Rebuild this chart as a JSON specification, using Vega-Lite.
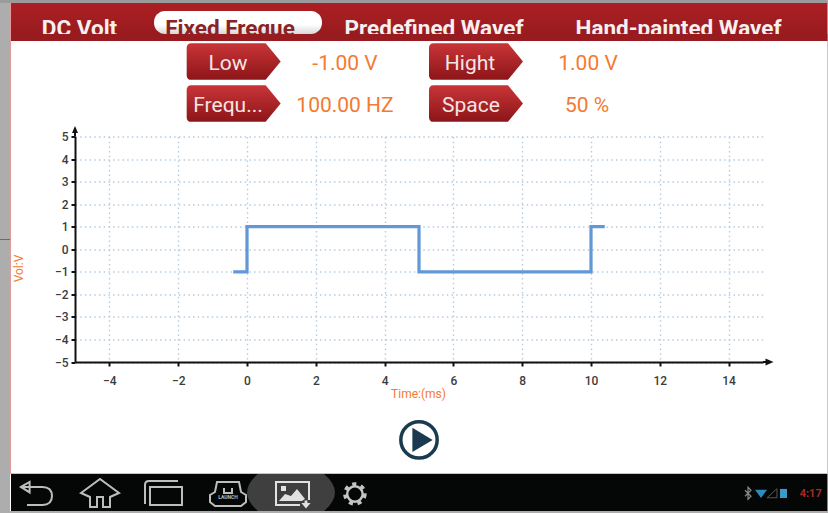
{"$schema":"https://vega.github.io/schema/vega-lite/v6.json","width":688,"height":225.5,"autosize":{"type":"none"},"padding":{"left":75,"top":136.5,"right":65,"bottom":151},"background":"#ffffff","config":{"view":{"stroke":null},"text":{"font":"Roboto"}},
"layer":[
{"data":{"values":[{"t":-0.4,"v":-1},{"t":0,"v":-1},{"t":0,"v":1},{"t":5,"v":1},{"t":5,"v":-1},{"t":10,"v":-1},{"t":10,"v":1},{"t":10.4,"v":1}]},"mark":{"type":"line","color":"#6298d8","strokeWidth":3.2,"strokeJoin":"miter"},"encoding":{"x":{"field":"t","type":"quantitative","scale":{"domain":[-5,15]},"axis":{"values":[-4,-2,0,2,4,6,8,10,12,14],"tickCount":20,"format":"d","labelOverlap":false,"grid":true,"gridColor":"#b4cce0","gridDash":[1.5,3.2],"gridWidth":1.4,"domainColor":"#111111","domainWidth":2,"tickColor":"#111111","tickSize":4,"tickWidth":2,"labelFont":"Roboto","labelFontSize":12,"labelFontWeight":500,"labelColor":"#3c3c3c","labelPadding":9,"title":"Time:(ms)","titleFont":"Roboto","titleFontSize":12,"titleFontWeight":"normal","titleColor":"#f47a30","titleX":343,"titleY":26}},"y":{"field":"v","type":"quantitative","scale":{"domain":[-5,5]},"axis":{"values":[-5,-4,-3,-2,-1,0,1,2,3,4,5],"tickCount":20,"format":"d","labelOverlap":false,"grid":true,"gridColor":"#b4cce0","gridDash":[1.5,3.2],"gridWidth":1.4,"domainColor":"#111111","domainWidth":2,"tickColor":"#111111","tickSize":4,"tickWidth":2,"labelFont":"Roboto","labelFontSize":12,"labelFontWeight":500,"labelColor":"#3c3c3c","labelPadding":3,"title":"Vol:V","titleFont":"Roboto","titleFontSize":12,"titleFontWeight":"normal","titleColor":"#f47a30","titleAngle":-90,"titleX":-50,"titleY":131.5}}}},
{"data":{"values":[{"part":"left strip"}]},"mark":{"type":"rect","fill":"#adadad"},"encoding":{"x":{"datum":-7.18,"type":"quantitative","scale":{"domain":[-5,15]}},"x2":{"datum":-6.89},"y":{"datum":11.053,"type":"quantitative","scale":{"domain":[-5,5]}},"y2":{"datum":-11.696}}},
{"data":{"values":[{"part":"top strip"}]},"mark":{"type":"rect","fill":"#9b9b9b"},"encoding":{"x":{"datum":-7.18,"type":"quantitative","scale":{"domain":[-5,15]}},"x2":{"datum":16.9},"y":{"datum":11.053,"type":"quantitative","scale":{"domain":[-5,5]}},"y2":{"datum":10.92}}},
{"data":{"values":[{"part":"right strip"}]},"mark":{"type":"rect","fill":"#adadad"},"encoding":{"x":{"datum":16.87,"type":"quantitative","scale":{"domain":[-5,15]}},"x2":{"datum":16.9},"y":{"datum":11.053,"type":"quantitative","scale":{"domain":[-5,5]}},"y2":{"datum":-11.696}}},
{"data":{"values":[{"part":"bottom strip"}]},"mark":{"type":"rect","fill":"#adadad"},"encoding":{"x":{"datum":-7.18,"type":"quantitative","scale":{"domain":[-5,15]}},"x2":{"datum":16.9},"y":{"datum":-11.607,"type":"quantitative","scale":{"domain":[-5,5]}},"y2":{"datum":-11.696}}},
{"data":{"values":[{"part":"edge"}]},"mark":{"type":"rect","fill":"#e09a9a"},"encoding":{"x":{"datum":-6.89,"type":"quantitative","scale":{"domain":[-5,15]}},"x2":{"datum":-6.86},"y":{"datum":10.92,"type":"quantitative","scale":{"domain":[-5,5]}},"y2":{"datum":-9.967}}},
{"data":{"values":[{"part":"red tick"}]},"mark":{"type":"rect","fill":"#d04040"},"encoding":{"x":{"datum":-7.18,"type":"quantitative","scale":{"domain":[-5,15]}},"x2":{"datum":-6.89},"y":{"datum":0.4545,"type":"quantitative","scale":{"domain":[-5,5]}},"y2":{"datum":0.41}}},
{"data":{"values":[{"part":"header"}]},"mark":{"type":"rect","fill":{"gradient":"linear","x1":0,"y1":0,"x2":0,"y2":1,"stops":[{"offset":0,"color":"#ac1f23"},{"offset":1,"color":"#941a1e"}]}},"encoding":{"x":{"datum":-6.86,"type":"quantitative","scale":{"domain":[-5,15]}},"x2":{"datum":16.87},"y":{"datum":10.92,"type":"quantitative","scale":{"domain":[-5,5]}},"y2":{"datum":9.235}}},
{"data":{"values":[{"part":"pill"}]},"mark":{"type":"rect","cornerRadius":11,"fill":{"gradient":"linear","x1":0,"y1":0,"x2":0,"y2":1,"stops":[{"offset":0,"color":"#ffffff"},{"offset":0.6,"color":"#ffffff"},{"offset":1,"color":"#d8d8d8"}]}},"encoding":{"x":{"datum":-2.703,"type":"quantitative","scale":{"domain":[-5,15]}},"x2":{"datum":2.18},"y":{"datum":10.565,"type":"quantitative","scale":{"domain":[-5,5]}},"y2":{"datum":9.545}}},
{"data":{"values":[{"label":"DC Volt"}]},"mark":{"type":"text","font":"Roboto","fontSize":22.5,"fontWeight":"bold","color":"#f6f0f0","align":"center","baseline":"alphabetic"},"encoding":{"x":{"datum":-4.869,"type":"quantitative","scale":{"domain":[-5,15]}},"y":{"datum":9.457,"type":"quantitative","scale":{"domain":[-5,5]}},"text":{"field":"label"}}},
{"data":{"values":[{"label":"Fixed Freque"}]},"mark":{"type":"text","font":"Roboto","fontSize":22.5,"fontWeight":"bold","color":"#8a2226","align":"center","baseline":"alphabetic"},"encoding":{"x":{"datum":-0.494,"type":"quantitative","scale":{"domain":[-5,15]}},"y":{"datum":9.457,"type":"quantitative","scale":{"domain":[-5,5]}},"text":{"field":"label"}}},
{"data":{"values":[{"label":"Predefined Wavef"}]},"mark":{"type":"text","font":"Roboto","fontSize":22.5,"fontWeight":"bold","color":"#f6f0f0","align":"center","baseline":"alphabetic"},"encoding":{"x":{"datum":5.436,"type":"quantitative","scale":{"domain":[-5,15]}},"y":{"datum":9.457,"type":"quantitative","scale":{"domain":[-5,5]}},"text":{"field":"label"}}},
{"data":{"values":[{"label":"Hand-painted Wavef"}]},"mark":{"type":"text","font":"Roboto","fontSize":22.5,"fontWeight":"bold","color":"#f6f0f0","align":"center","baseline":"alphabetic"},"encoding":{"x":{"datum":12.544,"type":"quantitative","scale":{"domain":[-5,15]}},"y":{"datum":9.457,"type":"quantitative","scale":{"domain":[-5,5]}},"text":{"field":"label"}}},
{"data":{"values":[{"part":"header base"}]},"mark":{"type":"rect","fill":"#971b1f"},"encoding":{"x":{"datum":-6.86,"type":"quantitative","scale":{"domain":[-5,15]}},"x2":{"datum":16.87},"y":{"datum":9.545,"type":"quantitative","scale":{"domain":[-5,5]}},"y2":{"datum":9.235}}},
{"data":{"values":[{"part":"button"}]},"mark":{"type":"point","filled":true,"opacity":1,"size":8836,"shape":"M-0.9,-0.39 L0.68,-0.39 L1,0 L0.68,0.39 L-0.9,0.39 Q-1,0.39 -1,0.29 L-1,-0.29 Q-1,-0.39 -0.9,-0.39 Z","fill":{"gradient":"linear","x1":0,"y1":0,"x2":0,"y2":1,"stops":[{"offset":0,"color":"#c93537"},{"offset":1,"color":"#8c1519"}]}},"encoding":{"x":{"datum":-0.387,"type":"quantitative","scale":{"domain":[-5,15]}},"y":{"datum":8.326,"type":"quantitative","scale":{"domain":[-5,5]}}}},
{"data":{"values":[{"part":"button"}]},"mark":{"type":"point","filled":true,"opacity":1,"size":8836,"shape":"M-0.9,-0.39 L0.68,-0.39 L1,0 L0.68,0.39 L-0.9,0.39 Q-1,0.39 -1,0.29 L-1,-0.29 Q-1,-0.39 -0.9,-0.39 Z","fill":{"gradient":"linear","x1":0,"y1":0,"x2":0,"y2":1,"stops":[{"offset":0,"color":"#c93537"},{"offset":1,"color":"#8c1519"}]}},"encoding":{"x":{"datum":-0.387,"type":"quantitative","scale":{"domain":[-5,15]}},"y":{"datum":6.463,"type":"quantitative","scale":{"domain":[-5,5]}}}},
{"data":{"values":[{"part":"button"}]},"mark":{"type":"point","filled":true,"opacity":1,"size":8836,"shape":"M-0.9,-0.39 L0.68,-0.39 L1,0 L0.68,0.39 L-0.9,0.39 Q-1,0.39 -1,0.29 L-1,-0.29 Q-1,-0.39 -0.9,-0.39 Z","fill":{"gradient":"linear","x1":0,"y1":0,"x2":0,"y2":1,"stops":[{"offset":0,"color":"#c93537"},{"offset":1,"color":"#8c1519"}]}},"encoding":{"x":{"datum":6.657,"type":"quantitative","scale":{"domain":[-5,15]}},"y":{"datum":8.326,"type":"quantitative","scale":{"domain":[-5,5]}}}},
{"data":{"values":[{"part":"button"}]},"mark":{"type":"point","filled":true,"opacity":1,"size":8836,"shape":"M-0.9,-0.39 L0.68,-0.39 L1,0 L0.68,0.39 L-0.9,0.39 Q-1,0.39 -1,0.29 L-1,-0.29 Q-1,-0.39 -0.9,-0.39 Z","fill":{"gradient":"linear","x1":0,"y1":0,"x2":0,"y2":1,"stops":[{"offset":0,"color":"#c93537"},{"offset":1,"color":"#8c1519"}]}},"encoding":{"x":{"datum":6.657,"type":"quantitative","scale":{"domain":[-5,15]}},"y":{"datum":6.463,"type":"quantitative","scale":{"domain":[-5,5]}}}},
{"data":{"values":[{"label":"Low"}]},"mark":{"type":"text","font":"Roboto","fontSize":21,"color":"#f5e4e4","align":"center","baseline":"middle"},"encoding":{"x":{"datum":-0.552,"type":"quantitative","scale":{"domain":[-5,15]}},"y":{"datum":8.215,"type":"quantitative","scale":{"domain":[-5,5]}},"text":{"field":"label"}}},
{"data":{"values":[{"label":"Frequ..."}]},"mark":{"type":"text","font":"Roboto","fontSize":21,"color":"#f5e4e4","align":"center","baseline":"middle"},"encoding":{"x":{"datum":-0.552,"type":"quantitative","scale":{"domain":[-5,15]}},"y":{"datum":6.35,"type":"quantitative","scale":{"domain":[-5,5]}},"text":{"field":"label"}}},
{"data":{"values":[{"label":"Hight"}]},"mark":{"type":"text","font":"Roboto","fontSize":21,"color":"#f5e4e4","align":"center","baseline":"middle"},"encoding":{"x":{"datum":6.483,"type":"quantitative","scale":{"domain":[-5,15]}},"y":{"datum":8.215,"type":"quantitative","scale":{"domain":[-5,5]}},"text":{"field":"label"}}},
{"data":{"values":[{"label":"Space"}]},"mark":{"type":"text","font":"Roboto","fontSize":21,"color":"#f5e4e4","align":"center","baseline":"middle"},"encoding":{"x":{"datum":6.512,"type":"quantitative","scale":{"domain":[-5,15]}},"y":{"datum":6.35,"type":"quantitative","scale":{"domain":[-5,5]}},"text":{"field":"label"}}},
{"data":{"values":[{"label":"-1.00 V"}]},"mark":{"type":"text","font":"Roboto","fontSize":21,"color":"#f47a30","align":"center","baseline":"middle"},"encoding":{"x":{"datum":2.849,"type":"quantitative","scale":{"domain":[-5,15]}},"y":{"datum":8.215,"type":"quantitative","scale":{"domain":[-5,5]}},"text":{"field":"label"}}},
{"data":{"values":[{"label":"100.00 HZ"}]},"mark":{"type":"text","font":"Roboto","fontSize":21,"color":"#f47a30","align":"center","baseline":"middle"},"encoding":{"x":{"datum":2.849,"type":"quantitative","scale":{"domain":[-5,15]}},"y":{"datum":6.35,"type":"quantitative","scale":{"domain":[-5,5]}},"text":{"field":"label"}}},
{"data":{"values":[{"label":"1.00 V"}]},"mark":{"type":"text","font":"Roboto","fontSize":21,"color":"#f47a30","align":"center","baseline":"middle"},"encoding":{"x":{"datum":9.913,"type":"quantitative","scale":{"domain":[-5,15]}},"y":{"datum":8.215,"type":"quantitative","scale":{"domain":[-5,5]}},"text":{"field":"label"}}},
{"data":{"values":[{"label":"50 %"}]},"mark":{"type":"text","font":"Roboto","fontSize":21,"color":"#f47a30","align":"center","baseline":"middle"},"encoding":{"x":{"datum":9.884,"type":"quantitative","scale":{"domain":[-5,15]}},"y":{"datum":6.35,"type":"quantitative","scale":{"domain":[-5,5]}},"text":{"field":"label"}}},
{"data":{"values":[{"part":"x arrow shaft"}]},"mark":{"type":"rule","color":"#111111","strokeWidth":2},"encoding":{"x":{"datum":15,"type":"quantitative","scale":{"domain":[-5,15]}},"x2":{"datum":15.2},"y":{"datum":-5,"type":"quantitative","scale":{"domain":[-5,5]}}}},
{"data":{"values":[{"part":"x arrow"}]},"mark":{"type":"point","filled":true,"opacity":1,"size":100,"color":"#111111","shape":"M-0.6,-0.7 L1,0 L-0.6,0.7 Z"},"encoding":{"x":{"datum":15.16,"type":"quantitative","scale":{"domain":[-5,15]}},"y":{"datum":-5,"type":"quantitative","scale":{"domain":[-5,5]}}}},
{"data":{"values":[{"part":"y arrow shaft"}]},"mark":{"type":"rule","color":"#111111","strokeWidth":2},"encoding":{"x":{"datum":-5,"type":"quantitative","scale":{"domain":[-5,15]}},"y":{"datum":5,"type":"quantitative","scale":{"domain":[-5,5]}},"y2":{"datum":5.3}}},
{"data":{"values":[{"part":"y arrow"}]},"mark":{"type":"point","filled":true,"opacity":1,"size":64,"color":"#111111","shape":"M-0.75,0.85 L0,-0.85 L0.75,0.85 Z"},"encoding":{"x":{"datum":-5,"type":"quantitative","scale":{"domain":[-5,15]}},"y":{"datum":5.31,"type":"quantitative","scale":{"domain":[-5,5]}}}},
{"data":{"values":[{"part":"play ring"}]},"mark":{"type":"point","shape":"circle","filled":false,"opacity":1,"size":1320,"stroke":"#1a3a4f","strokeWidth":3.5},"encoding":{"x":{"datum":5,"type":"quantitative","scale":{"domain":[-5,15]}},"y":{"datum":-8.457,"type":"quantitative","scale":{"domain":[-5,5]}}}},
{"data":{"values":[{"part":"play"}]},"mark":{"type":"point","filled":true,"opacity":1,"size":1936,"color":"#1a3a4f","shape":"M-0.3,-0.55 L0.62,0 L-0.3,0.55 Z"},"encoding":{"x":{"datum":5,"type":"quantitative","scale":{"domain":[-5,15]}},"y":{"datum":-8.457,"type":"quantitative","scale":{"domain":[-5,5]}}}},
{"data":{"values":[{"part":"nav bar"}]},"mark":{"type":"rect","fill":"#050707"},"encoding":{"x":{"datum":-6.86,"type":"quantitative","scale":{"domain":[-5,15]}},"x2":{"datum":16.87},"y":{"datum":-9.967,"type":"quantitative","scale":{"domain":[-5,5]}},"y2":{"datum":-11.607}}},
{"data":{"values":[{"part":"nav top line"}]},"mark":{"type":"rect","fill":"#c4c4c4"},"encoding":{"x":{"datum":-6.86,"type":"quantitative","scale":{"domain":[-5,15]}},"x2":{"datum":16.87},"y":{"datum":-9.92,"type":"quantitative","scale":{"domain":[-5,5]}},"y2":{"datum":-9.967}}},
{"data":{"values":[{"part":"highlight"}]},"mark":{"type":"point","filled":true,"opacity":1,"size":7744,"color":"#3f3f3f","shape":"M-0.75,-0.42 L0.75,-0.42 Q1.25,0 0.75,0.42 L-0.75,0.42 Q-1.25,0 -0.75,-0.42 Z"},"encoding":{"x":{"datum":1.279,"type":"quantitative","scale":{"domain":[-5,15]}},"y":{"datum":-10.787,"type":"quantitative","scale":{"domain":[-5,5]}}}},
{"data":{"values":[{"part":"back"}]},"mark":{"type":"point","filled":false,"opacity":1,"size":1024,"stroke":"#bdbdbd","strokeWidth":2,"shape":"M-0.94,-0.44 L-0.4,-0.75 L-0.4,-0.1 Z M-0.94,-0.44 L0.4,-0.44 Q1,-0.44 1,0.13 Q1,0.69 0.4,0.69 L-0.56,0.69"},"encoding":{"x":{"datum":-6.134,"type":"quantitative","scale":{"domain":[-5,15]}},"y":{"datum":-10.853,"type":"quantitative","scale":{"domain":[-5,5]}}}},
{"data":{"values":[{"part":"home"}]},"mark":{"type":"point","filled":false,"opacity":1,"size":1600,"stroke":"#bdbdbd","strokeWidth":2,"shape":"M-0.95,-0.05 L0,-0.75 L0.95,-0.05 L0.5,0.15 L0.5,0.65 L0.15,0.65 L0.15,0.15 L-0.15,0.15 L-0.15,0.65 L-0.5,0.65 L-0.5,0.15 Z"},"encoding":{"x":{"datum":-4.273,"type":"quantitative","scale":{"domain":[-5,15]}},"y":{"datum":-10.853,"type":"quantitative","scale":{"domain":[-5,5]}}}},
{"data":{"values":[{"part":"recents"}]},"mark":{"type":"point","filled":false,"opacity":1,"size":1600,"stroke":"#bdbdbd","strokeWidth":2,"shape":"M-0.7,-0.35 L0.9,-0.35 L0.9,0.55 L-0.7,0.55 Z M-0.95,0.5 L-0.95,-0.45 Q-0.95,-0.65 -0.75,-0.65 L0.7,-0.65"},"encoding":{"x":{"datum":-2.413,"type":"quantitative","scale":{"domain":[-5,15]}},"y":{"datum":-10.853,"type":"quantitative","scale":{"domain":[-5,5]}}}},
{"data":{"values":[{"part":"launch"}]},"mark":{"type":"point","filled":false,"opacity":1,"size":1600,"stroke":"#bdbdbd","strokeWidth":2,"shape":"M-0.55,-0.6 L0.55,-0.6 L0.65,-0.1 L0.9,0.05 L0.9,0.4 L0.65,0.6 L-0.65,0.6 L-0.9,0.4 L-0.9,0.05 L-0.65,-0.1 Z M-0.2,-0.3 L-0.2,-0.05 L0.2,-0.05 L0.2,-0.3"},"encoding":{"x":{"datum":-0.552,"type":"quantitative","scale":{"domain":[-5,15]}},"y":{"datum":-10.853,"type":"quantitative","scale":{"domain":[-5,5]}}}},
{"data":{"values":[{"label":"LAUNCH"}]},"mark":{"type":"text","font":"Roboto","fontSize":5,"fontWeight":"bold","color":"#bdbdbd","align":"center","baseline":"middle"},"encoding":{"x":{"datum":-0.552,"type":"quantitative","scale":{"domain":[-5,15]}},"y":{"datum":-11.0,"type":"quantitative","scale":{"domain":[-5,5]}},"text":{"field":"label"}}},
{"data":{"values":[{"part":"image frame"}]},"mark":{"type":"point","filled":false,"opacity":1,"size":1600,"stroke":"#e2e2e2","strokeWidth":2,"shape":"M0.9,0.3 L0.9,-0.6 L-0.75,-0.6 L-0.75,0.55 L0.45,0.55"},"encoding":{"x":{"datum":1.279,"type":"quantitative","scale":{"domain":[-5,15]}},"y":{"datum":-10.853,"type":"quantitative","scale":{"domain":[-5,5]}}}},
{"data":{"values":[{"part":"image content"}]},"mark":{"type":"point","filled":true,"opacity":1,"size":1600,"color":"#e2e2e2","shape":"M-0.6,0.35 L-0.3,0 L0,0.1 L0.3,-0.25 L0.7,0.25 L0.55,0.35 Z M-0.5,-0.4 L-0.25,-0.4 L-0.25,-0.15 L-0.5,-0.15 Z M0.68,0.32 L0.82,0.32 L0.82,0.45 L0.98,0.45 L0.75,0.72 L0.52,0.45 L0.68,0.45 Z"},"encoding":{"x":{"datum":1.279,"type":"quantitative","scale":{"domain":[-5,15]}},"y":{"datum":-10.853,"type":"quantitative","scale":{"domain":[-5,5]}}}},
{"data":{"values":[{"part":"gear body"}]},"mark":{"type":"point","shape":"circle","filled":false,"opacity":1,"size":240,"stroke":"#c4c4c4","strokeWidth":2.5},"encoding":{"x":{"datum":3.137,"type":"quantitative","scale":{"domain":[-5,15]}},"y":{"datum":-10.853,"type":"quantitative","scale":{"domain":[-5,5]}}}},
{"data":{"values":[{"part":"gear teeth"}]},"mark":{"type":"point","shape":"circle","filled":false,"opacity":1,"size":380,"stroke":"#c4c4c4","strokeWidth":4,"strokeDash":[4,4.6]},"encoding":{"x":{"datum":3.137,"type":"quantitative","scale":{"domain":[-5,15]}},"y":{"datum":-10.853,"type":"quantitative","scale":{"domain":[-5,5]}}}},
{"data":{"values":[{"part":"bluetooth"}]},"mark":{"type":"point","filled":false,"opacity":1,"size":144,"stroke":"#8a8a8a","strokeWidth":1.2,"shape":"M-0.5,-0.5 L0.5,0.5 L0,1 L0,-1 L0.5,-0.5 L-0.5,0.5"},"encoding":{"x":{"datum":14.564,"type":"quantitative","scale":{"domain":[-5,15]}},"y":{"datum":-10.82,"type":"quantitative","scale":{"domain":[-5,5]}}}},
{"data":{"values":[{"part":"wifi"}]},"mark":{"type":"point","filled":true,"opacity":1,"size":144,"color":"#2b8dbd","shape":"M-1,-0.6 L1,-0.6 L0,0.8 Z"},"encoding":{"x":{"datum":14.942,"type":"quantitative","scale":{"domain":[-5,15]}},"y":{"datum":-10.82,"type":"quantitative","scale":{"domain":[-5,5]}}}},
{"data":{"values":[{"part":"signal"}]},"mark":{"type":"point","filled":false,"opacity":1,"size":100,"stroke":"#555555","strokeWidth":1,"shape":"M1,-0.9 L1,0.9 L-1,0.9 Z"},"encoding":{"x":{"datum":15.262,"type":"quantitative","scale":{"domain":[-5,15]}},"y":{"datum":-10.82,"type":"quantitative","scale":{"domain":[-5,5]}}}},
{"data":{"values":[{"part":"battery"}]},"mark":{"type":"rect","fill":"#3a9bc8"},"encoding":{"x":{"datum":15.494,"type":"quantitative","scale":{"domain":[-5,15]}},"x2":{"datum":15.698},"y":{"datum":-10.629,"type":"quantitative","scale":{"domain":[-5,5]}},"y2":{"datum":-11.03}}},
{"data":{"values":[{"label":"4:17"}]},"mark":{"type":"text","font":"Roboto","fontSize":11,"fontWeight":"bold","color":"#a82a2a","align":"center","baseline":"middle"},"encoding":{"x":{"datum":16.387,"type":"quantitative","scale":{"domain":[-5,15]}},"y":{"datum":-10.836,"type":"quantitative","scale":{"domain":[-5,5]}},"text":{"field":"label"}}}
]}
